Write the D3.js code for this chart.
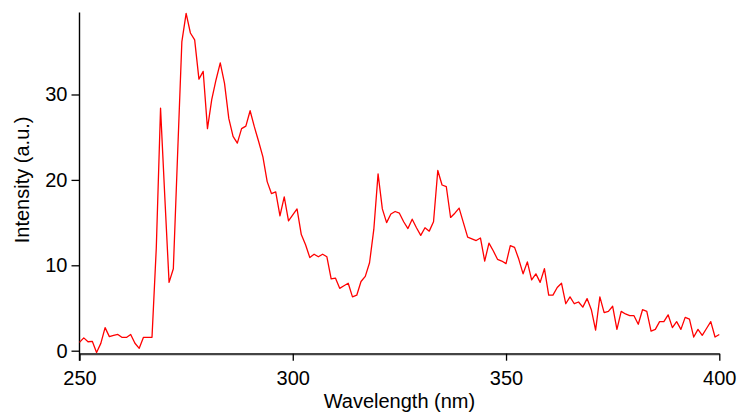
<!DOCTYPE html>
<html lang="en">
<head>
  <meta charset="UTF-8" />
  <title>Emission spectrum</title>
  <script src="https://d3js.org/d3.v7.min.js"></script>
  <style>
    body { margin: 0; background: #fff; font-family: "Liberation Sans", Arial, sans-serif; }
    .axis text { font-size: 20px; fill: #000; font-family: "Liberation Sans", Arial, sans-serif; }
    .title { font-size: 20px; fill: #000; }
  </style>
</head>
<body>
  <svg id="chart" width="741" height="412"></svg>
  <script>
    // wavelength in nm, 1 nm steps
    const startNm = 250;
    const intensity = [
      0.98, 1.5, 1.05, 1.1, -0.2, 0.86, 2.7, 1.65, 1.8, 1.9,          // 250-259
      1.55, 1.55, 1.9, 0.87, 0.28, 1.57, 1.57, 1.57, 12, 28.4,        // 260-269
      18, 8.0, 9.6, 23, 36.2, 39.5, 37.2, 36.4, 31.8, 32.7,           // 270-279
      26.0, 29.4, 31.7, 33.7, 31.3, 27.2, 25.1, 24.3, 26.0, 26.3,     // 280-289
      28.1, 26.2, 24.5, 22.7, 19.8, 18.4, 18.6, 15.8, 18.0, 15.2,     // 290-299
      15.9, 16.6, 13.6, 12.4, 10.9, 11.3, 11.0, 11.3, 11.0, 8.4,      // 300-309
      8.5, 7.3, 7.6, 7.9, 6.3, 6.5, 8.1, 8.7, 10.3, 14.2,             // 310-319
      20.7, 16.6, 15.0, 16.0, 16.3, 16.1, 15.1, 14.3, 15.4, 14.4,     // 320-329
      13.5, 14.4, 14.0, 15.1, 21.1, 19.4, 19.2, 15.6, 16.1, 16.7,     // 330-339
      15.0, 13.3, 13.1, 12.9, 13.2, 10.5, 12.6, 11.7, 10.7, 10.5,     // 340-349
      10.2, 12.3, 12.1, 10.7, 9.0, 10.4, 8.3, 9.0, 8.0, 9.6,          // 350-359
      6.5, 6.5, 7.4, 7.9, 5.5, 6.3, 5.5, 5.7, 5.1, 6.1,               // 360-369
      4.8, 2.4, 6.3, 4.45, 4.6, 5.2, 2.5, 4.6, 4.3, 4.1,              // 370-379
      4.1, 3.1, 4.8, 4.6, 2.3, 2.5, 3.4, 3.4, 4.2, 2.7,               // 380-389
      3.4, 2.5, 3.9, 3.7, 1.6, 2.5, 1.8, 2.6, 3.4, 1.6,               // 390-399
      1.9                                                             // 400
    ];
    const xTicks = [250, 300, 350, 400];
    const yTicks = [0, 10, 20, 30];

    const data = intensity.map((v, i) => ({ nm: startNm + i, v: v }));

    const svg = d3.select("#chart");

    const x = d3.scaleLinear().domain([250, 400]).range([79.5, 719.3]);
    const y = d3.scaleLinear().domain([0, 39.6]).range([350.7, 12.5]);

    // left axis
    const yAxis = svg.append("g")
      .attr("class", "axis")
      .attr("transform", `translate(${x(250)},0)`)
      .call(d3.axisLeft(y).tickValues(yTicks).tickSize(8).tickSizeOuter(0).tickPadding(4));
    yAxis.select(".domain").remove();
    yAxis.selectAll(".tick line").attr("stroke", "#000").attr("stroke-width", 1.3);
    yAxis.append("line")
      .attr("x1", 0).attr("x2", 0)
      .attr("y1", y.range()[1]).attr("y2", y(0) + 10)
      .attr("stroke", "#000").attr("stroke-width", 1.4);

    // bottom axis, drawn a bit below zero
    const xAxisY = y(0) + 3;
    const xAxis = svg.append("g")
      .attr("class", "axis")
      .attr("transform", `translate(0,${xAxisY})`)
      .call(d3.axisBottom(x).tickValues(xTicks).tickFormat(d3.format("d")).tickSize(7).tickSizeOuter(0).tickPadding(10));
    xAxis.select(".domain").attr("stroke", "#444").attr("stroke-width", 2.3);
    xAxis.selectAll(".tick line").attr("stroke", "#000").attr("stroke-width", 1.3);

    // spectrum
    const line = d3.line().x(d => x(d.nm)).y(d => y(d.v));
    svg.append("path")
      .datum(data)
      .attr("fill", "none")
      .attr("stroke", "#ff0000")
      .attr("stroke-width", 1.3)
      .attr("stroke-linejoin", "round")
      .attr("d", line);

    // titles
    svg.append("text")
      .attr("class", "title")
      .attr("x", (x.range()[0] + x.range()[1]) / 2)
      .attr("y", 408)
      .attr("text-anchor", "middle")
      .text("Wavelength (nm)");

    svg.append("text")
      .attr("class", "title")
      .attr("transform", `translate(29,${y(20)}) rotate(-90)`)
      .attr("text-anchor", "middle")
      .text("Intensity (a.u.)");
  </script>
</body>
</html>
